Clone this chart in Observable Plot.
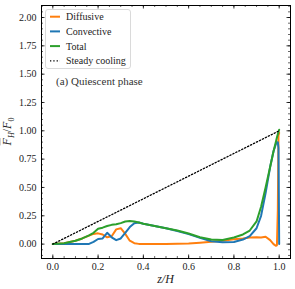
<!DOCTYPE html>
<html>
<head>
<meta charset="utf-8">
<script src="https://cdn.jsdelivr.net/npm/d3@7"></script>
<script src="https://cdn.jsdelivr.net/npm/@observablehq/plot@0.6"></script>
<style>
  html, body { margin: 0; padding: 0; background: #fff; }
  svg, svg text { font-family: 'Liberation Serif', 'Times New Roman', serif !important; }
</style>
</head>
<body>
<div id="chart"></div>
<script>
// ---- data ----
const zs = [0, 0.05, 0.1, 0.13, 0.16, 0.18, 0.2, 0.22, 0.24, 0.26, 0.28, 0.3, 0.32, 0.34, 0.36, 0.38, 0.4, 0.45, 0.5, 0.55, 0.6, 0.65, 0.7, 0.75, 0.8, 0.84, 0.87, 0.9, 0.92, 0.94, 0.96, 0.975, 0.985, 0.99, 0.994, 0.997, 1.0];
const diffusive = [0, 0.008, 0.03, 0.05, 0.075, 0.09, 0.095, 0.085, 0.06, 0.07, 0.13, 0.14, 0.09, 0.03, 0.008, 0.002, 0.0, 0.0, 0.0, 0.003, 0.005, 0.012, 0.02, 0.03, 0.042, 0.05, 0.058, 0.06, 0.058, 0.065, 0.035, 0.0, -0.015, -0.01, 0.3, 0.96, 0.98];
const convective = [0, 0, 0, 0, 0.002, 0.02, 0.045, 0.05, 0.1, 0.06, 0.035, 0.05, 0.1, 0.15, 0.185, 0.19, 0.18, 0.16, 0.14, 0.115, 0.088, 0.055, 0.025, 0.017, 0.018, 0.04, 0.07, 0.14, 0.25, 0.45, 0.68, 0.82, 0.88, 0.9, 0.9, 0.85, 0.0];
const total = [0, 0.008, 0.03, 0.05, 0.077, 0.1, 0.135, 0.145, 0.16, 0.17, 0.175, 0.185, 0.2, 0.205, 0.2, 0.19, 0.18, 0.16, 0.14, 0.12, 0.093, 0.06, 0.04, 0.037, 0.058, 0.085, 0.12, 0.2, 0.33, 0.5, 0.68, 0.82, 0.9, 0.94, 0.97, 0.99, 1.01];
const steadyZ = [0, 1];
const steadyF = [0, 1];
const xTicks = [0, 0.2, 0.4, 0.6, 0.8, 1.0];
const yTicks = [0, 0.25, 0.5, 0.75, 1.0, 1.25, 1.5, 1.75, 2.0];
const xMinor = d3.range(-1, 22).map(i => -0.05 + i * 0.05).filter(v => v > -0.049 && v < 1.049);
const yMinor = d3.range(-2, 43).map(i => i * 0.05).filter(v => v > -0.126 && v < 2.105);
const seriesNames = ["Diffusive", "Convective", "Total", "Steady cooling"];
const seriesColors = ["#ff7f0e", "#1f77b4", "#2ca02c", "#000000"];

const W = 295, H = 289;
const mL = 41, mR = 5, mT = 5, mB = 31;
const innerH = H - mT - mB, innerW = W - mL - mR;
const major = 3.5, minor = 2;
const serif = "'Liberation Serif', 'Times New Roman', serif";

const chart = Plot.plot({
  width: W, height: H,
  marginLeft: mL, marginRight: mR, marginTop: mT, marginBottom: mB,
  style: { fontFamily: serif, fontSize: "10px", color: "#222", background: "white" },
  x: { domain: [-0.05, 1.05] },
  y: { domain: [-0.127, 2.106] },
  marks: [
    Plot.line(zs, { x: zs, y: diffusive, stroke: seriesColors[0], strokeWidth: 2 }),
    Plot.line(zs, { x: zs, y: convective, stroke: seriesColors[1], strokeWidth: 2 }),
    Plot.line(zs, { x: zs, y: total, stroke: seriesColors[2], strokeWidth: 2 }),
    Plot.line(steadyZ, { x: steadyZ, y: steadyF, stroke: "black", strokeWidth: 1.3, strokeDasharray: "1.3,2" }),
    // inward ticks on all sides
    Plot.tickX(xTicks, { x: d => d, stroke: "black", strokeWidth: 0.8, insetTop: innerH - major }),
    Plot.tickX(xTicks, { x: d => d, stroke: "black", strokeWidth: 0.8, insetBottom: innerH - major }),
    Plot.tickX(xMinor, { x: d => d, stroke: "black", strokeWidth: 0.6, insetTop: innerH - minor }),
    Plot.tickX(xMinor, { x: d => d, stroke: "black", strokeWidth: 0.6, insetBottom: innerH - minor }),
    Plot.tickY(yTicks, { y: d => d, stroke: "black", strokeWidth: 0.8, insetRight: innerW - major }),
    Plot.tickY(yTicks, { y: d => d, stroke: "black", strokeWidth: 0.8, insetLeft: innerW - major }),
    Plot.tickY(yMinor, { y: d => d, stroke: "black", strokeWidth: 0.6, insetRight: innerW - minor }),
    Plot.tickY(yMinor, { y: d => d, stroke: "black", strokeWidth: 0.6, insetLeft: innerW - minor }),
    Plot.axisX({ ticks: xTicks, tickSize: 0, tickPadding: 4, tickFormat: d3.format(".1f"), label: null, fontSize: 10 }),
    Plot.axisY({ ticks: yTicks, tickSize: 0, tickPadding: 5, tickFormat: d3.format(".2f"), label: null, fontSize: 10 }),
    Plot.frame({ stroke: "black", strokeWidth: 1 })
  ]
});
document.getElementById("chart").appendChild(chart);

// ---- annotations, axis labels and legend ----
const svg = d3.select(chart);

// x label
svg.append("text")
  .attr("x", mL + innerW / 2).attr("y", 283)
  .attr("text-anchor", "middle")
  .style("font-size", "12px").style("font-style", "italic")
  .attr("fill", "#222")
  .text("z/H");

// y label
const yl = svg.append("text")
  .attr("transform", `translate(11,${mT + innerH / 2}) rotate(-90)`)
  .attr("text-anchor", "middle")
  .style("font-size", "12px")
  .attr("fill", "#222");
yl.append("tspan").style("font-style", "italic").style("text-decoration", "overline").text("F");
yl.append("tspan").style("font-style", "italic").style("font-size", "8px").attr("dy", 3).text("H");
yl.append("tspan").attr("dy", -3).text("/");
yl.append("tspan").style("font-style", "italic").text("F");
yl.append("tspan").style("font-size", "8px").attr("dy", 3).text("0");

// annotation
svg.append("text")
  .attr("x", 56).attr("y", 85)
  .attr("text-anchor", "start")
  .style("font-size", "11px")
  .attr("fill", "#333")
  .text("(a) Quiescent phase");

// legend
const lg = svg.append("g").attr("text-anchor", "start");
lg.append("rect")
  .attr("x", 45.5).attr("y", 9.5).attr("width", 85).attr("height", 59).attr("rx", 2.5)
  .attr("fill", "white").attr("fill-opacity", 0.8).attr("stroke", "#d0d0d0").attr("stroke-width", 0.8);
seriesNames.forEach((name, i) => {
  const cy = 16.7 + i * 14.7;
  lg.append("line")
    .attr("x1", 50).attr("x2", 60).attr("y1", cy).attr("y2", cy)
    .attr("stroke", seriesColors[i])
    .attr("stroke-width", i === 3 ? 1.3 : 2)
    .attr("stroke-dasharray", i === 3 ? "1.3,2" : null);
  lg.append("text")
    .attr("x", 66).attr("y", cy + 3.5)
    .attr("text-anchor", "start")
    .style("font-size", "10px")
    .attr("fill", "#222")
    .text(name);
});
</script>
</body>
</html>
